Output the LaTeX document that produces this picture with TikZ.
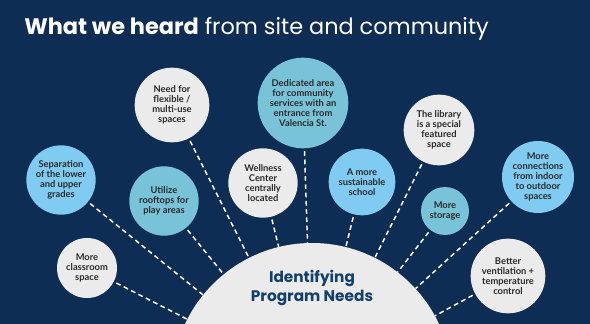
\documentclass[tikz,border=0pt]{standalone}
\usepackage{fontspec}
\setmainfont{Lato}
\newfontfamily\headfont{Poppins}
\usepackage{xcolor}
\usetikzlibrary{positioning}
\definecolor{nightblue}{HTML}{0E2D55}
\definecolor{bubblegrey}{HTML}{EBEBEB}
\definecolor{bubbleblue}{HTML}{80CBF2}
\definecolor{bubbleteal}{HTML}{79C3D8}
\definecolor{needsblue}{HTML}{123F6E}
\definecolor{inktext}{HTML}{2A2A2A}

\tikzset{
  bubble/.style={circle, inner sep=0pt, align=center, text=inktext,
                 font=\bfseries\fontsize{7}{7.6}\selectfont},
  grey bubble/.style={bubble, fill=bubblegrey},
  blue bubble/.style={bubble, fill=bubbleblue},
  teal bubble/.style={bubble, fill=bubbleteal},
  heard/.style={white, line width=1.1pt, dash pattern=on 3.6pt off 2.6pt,
                shorten <=2pt}
}

\begin{document}
\begin{tikzpicture}[x=0.75pt, y=-0.75pt]
  \useasboundingbox (0,0) rectangle (590,324);
  \clip (0,0) rectangle (590,324);
  \fill[nightblue] (0,0) rectangle (590,324);

  % title
  \node[anchor=base west, inner sep=0pt, text=white,
        font=\headfont\fontsize{16.8}{20}\selectfont] (title) at (24,35)
        {\textbf{What we heard} from site and community};

  % centre
  \node[circle, fill=bubblegrey, minimum size=210pt, inner sep=0pt]
        (needs) at (312,383) {};
  \node[align=center, text=needsblue, inner sep=0pt,
        font=\headfont\bfseries\fontsize{11.5}{14.2}\selectfont]
        (needslbl) at (312,288) {Identifying\\Program Needs};

  % what we heard
  \node[grey bubble, minimum size=45pt] (classroom) at (87,268)
        {More\\classroom\\space};
  \node[blue bubble, minimum size=52pt] (separation) at (61,180)
        {Separation\\of the lower\\and upper\\grades};
  \node[teal bubble, minimum size=52pt] (rooftops) at (164,201)
        {Utilize\\rooftops for\\play areas};
  \node[grey bubble, minimum size=56pt] (flexible) at (172,105)
        {Need for\\flexible /\\multi-use\\spaces};
  \node[grey bubble, minimum size=52pt] (wellness) at (263,183)
        {Wellness\\Center\\centrally\\located};
  \node[teal bubble, minimum size=68pt] (dedicated) at (303,103)
        {Dedicated area\\for community\\services with an\\entrance from\\Valencia St.};
  \node[blue bubble, minimum size=50pt] (sustainable) at (362,182)
        {A more\\sustainable\\school};
  \node[grey bubble, minimum size=53pt] (library) at (439,130)
        {The library\\is a special\\featured\\space};
  \node[teal bubble, minimum size=36pt] (storage) at (445,211)
        {More\\storage};
  \node[blue bubble, minimum size=54pt] (connections) at (538,177)
        {More\\connections\\from indoor\\to outdoor\\spaces};
  \node[grey bubble, minimum size=56pt] (ventilation) at (508,276)
        {Better\\ventilation +\\temperature\\control};

  % dashed links
  \foreach \n in {classroom, separation, rooftops, flexible, wellness,
                  dedicated, sustainable, library, storage, connections,
                  ventilation}
    \draw[heard] (\n) -- (needs);
\end{tikzpicture}
\end{document}
